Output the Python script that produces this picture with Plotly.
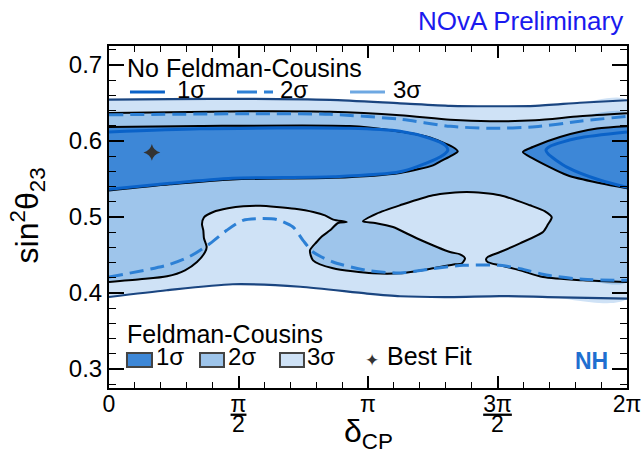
import math
import plotly.graph_objects as go

PI = math.pi

# ---------------- data (delta_CP in radians, sin^2 theta_23) ----------------
# Feldman-Cousins 3 sigma band (outer boundary)
FC3_TOP_X = [0.0, 0.74, 1.71, 2.68, 3.53, 4.14, 4.62, 5.17, 5.71, 6.283]
FC3_TOP_Y = [0.6545, 0.655, 0.6555, 0.6542, 0.6496, 0.6463, 0.6457, 0.6463, 0.6503, 0.6536]
FC3_BOT_X = [0.0, 0.70, 1.50, 2.32, 3.13, 3.53, 4.14, 4.74, 5.32, 6.283]
FC3_BOT_Y = [0.3947, 0.4036, 0.4115, 0.4082, 0.3992, 0.3957, 0.3947, 0.396, 0.3947, 0.3926]

# Feldman-Cousins 2 sigma region
FC2_TOP_X = [0.0, 1.71, 2.68, 3.53, 4.14, 4.62, 5.17, 5.71, 6.283]
FC2_TOP_Y = [0.6368, 0.639, 0.6384, 0.6338, 0.628, 0.626, 0.6273, 0.6325, 0.6364]
FC2_BOT_X = [0.0, 0.376, 0.704, 0.922, 1.067, 1.164, 1.185, 1.152, 1.144, 1.128,
             1.152, 1.265, 1.443, 1.629, 1.832, 2.034, 2.256, 2.478, 2.620, 2.721,
             2.883, 2.778, 2.681, 2.584, 2.519, 2.438, 2.475, 2.717, 3.202, 3.530,
             3.930, 4.197, 4.278, 4.318, 4.258, 4.136, 3.732, 3.445, 3.227, 3.081,
             3.247, 3.530, 3.930, 4.339, 4.743, 5.107, 5.289, 5.370, 5.325, 5.264,
             4.985, 4.743, 4.597, 4.573, 4.597, 4.743, 4.985, 5.264, 5.750, 6.283]
FC2_BOT_Y = [0.4145, 0.418, 0.422, 0.4299, 0.4408, 0.4535, 0.4605, 0.472, 0.4825, 0.4904,
             0.4996, 0.5066, 0.5114, 0.5141, 0.5147, 0.5132, 0.5108, 0.5066, 0.5022, 0.4966,
             0.4934, 0.4921, 0.4825, 0.4746, 0.4671, 0.4562, 0.443, 0.4325, 0.4259, 0.4259,
             0.4325, 0.4378, 0.4387, 0.4457, 0.4509, 0.4539, 0.472, 0.4868, 0.4921, 0.4943,
             0.5045, 0.5154, 0.5286, 0.5329, 0.5286, 0.5154, 0.5075, 0.4996, 0.4904, 0.4803,
             0.4654, 0.4539, 0.4476, 0.4443, 0.4404, 0.4364, 0.4299, 0.421, 0.4167, 0.4145]

# Feldman-Cousins 1 sigma islands
FC1_LEFT_X = [0.0, 1.10, 2.92, 3.42, 3.87, 4.17, 4.23, 4.16, 4.02, 3.93, 3.53, 2.72, 1.50, 0.74, 0.0]
FC1_LEFT_Y = [0.6184, 0.6197, 0.6197, 0.6141, 0.6053, 0.5921, 0.5864, 0.5812, 0.5733, 0.568,
              0.558, 0.5515, 0.5495, 0.543, 0.535]
FC1_RIGHT_X = [6.283, 5.92, 5.47, 5.14, 5.02, 5.14, 5.56, 5.96, 6.283]
FC1_RIGHT_Y = [0.6193, 0.6163, 0.6053, 0.5921, 0.5855, 0.5772, 0.5549, 0.5443, 0.5378]

# No Feldman-Cousins contours
NOFC1_LEFT_X = [0.0, 1.10, 2.92, 3.53, 3.89, 4.08, 4.11, 4.08, 3.93, 3.53, 2.72, 1.50, 0.74, 0.0]
NOFC1_LEFT_Y = [0.6118, 0.616, 0.6167, 0.6128, 0.6036, 0.5943, 0.5878, 0.5838, 0.5746, 0.5595,
                0.5529, 0.5509, 0.5443, 0.5364]
NOFC1_RIGHT_X = [6.283, 5.68, 5.35, 5.30, 5.33, 5.56, 5.96, 6.283]
NOFC1_RIGHT_Y = [0.6118, 0.6036, 0.593, 0.5878, 0.5825, 0.5654, 0.5483, 0.5391]
NOFC2_TOP_X = [0.0, 1.71, 2.68, 3.53, 4.14, 4.62, 5.17, 5.71, 6.283]
NOFC2_TOP_Y = [0.6345, 0.6358, 0.6351, 0.6286, 0.6193, 0.6167, 0.6187, 0.626, 0.6325]
NOFC2_BOT_X = [0.0, 0.70, 0.982, 1.225, 1.428, 1.625, 1.832, 2.034, 2.232, 2.353, 2.475,
               2.717, 3.126, 3.530, 3.930, 4.294, 4.743, 4.985, 5.325, 5.750, 6.283]
NOFC2_BOT_Y = [0.4211, 0.4364, 0.4483, 0.465, 0.4825, 0.4956, 0.4979, 0.4966, 0.4868, 0.4693,
               0.4539, 0.4408, 0.4299, 0.4263, 0.4321, 0.4364, 0.4364, 0.4321, 0.4233, 0.418, 0.4167]

BEST_FIT_X = [0.52]
BEST_FIT_Y = [0.585]

X_TICK_VALS = [0, PI / 2, PI, 3 * PI / 2, 2 * PI]
X_TICK_TEXT = ["0", "<u>π</u>", "π", "<u>3π</u>", "2π"]
X_TICK_DENOM = ["", "2", "", "2", ""]
Y_TICK_VALS = [0.3, 0.4, 0.5, 0.6, 0.7]
Y_TICK_TEXT = ["0.3", "0.4", "0.5", "0.6", "0.7"]

# ---------------- style ----------------
FONT = "Liberation Sans, Arial, Helvetica, sans-serif"
C_FC1 = "#3d87d7"
C_FC2 = "#9ec5eb"
C_FC3 = "#cfe2f6"
C_N1 = "#0a62c8"
C_N2 = "#2d80d5"
C_N3 = "#6ea8e2"
C_EDGE = "#1a4580"
DASH = "14px,7px"
SPL = dict(shape="spline", smoothing=0.7)

fig = go.Figure()


def add_fill(x, y, color, outline=None, width=0):
    fig.add_trace(go.Scatter(
        x=x, y=y, mode="lines", fill="toself", fillcolor=color,
        line=dict(color=outline or color, width=width, **SPL),
        hoverinfo="skip", showlegend=False))


def add_line(x, y, color, width, dash="solid"):
    fig.add_trace(go.Scatter(
        x=x, y=y, mode="lines",
        line=dict(color=color, width=width, dash=dash, **SPL),
        hoverinfo="skip", showlegend=False))


add_fill(FC3_TOP_X + FC3_BOT_X[::-1], FC3_TOP_Y + FC3_BOT_Y[::-1], C_FC3)
add_fill(FC2_TOP_X + FC2_BOT_X[::-1], FC2_TOP_Y + FC2_BOT_Y[::-1], C_FC2)
add_fill(FC1_LEFT_X, FC1_LEFT_Y, C_FC1, "black", 2)
add_fill(FC1_RIGHT_X, FC1_RIGHT_Y, C_FC1, "black", 2)

add_line(FC2_TOP_X, FC2_TOP_Y, "black", 2)
add_line(FC2_BOT_X, FC2_BOT_Y, "black", 2)
add_line(FC3_TOP_X, FC3_TOP_Y, C_EDGE, 2.2)
add_line(FC3_BOT_X, FC3_BOT_Y, C_EDGE, 2.2)

add_line(NOFC2_TOP_X, NOFC2_TOP_Y, C_N2, 3, DASH)
add_line(NOFC2_BOT_X, NOFC2_BOT_Y, C_N2, 3, DASH)
add_line(NOFC1_LEFT_X, NOFC1_LEFT_Y, C_N1, 3)
add_line(NOFC1_RIGHT_X, NOFC1_RIGHT_Y, C_N1, 3)

fig.add_trace(go.Scatter(
    x=BEST_FIT_X, y=BEST_FIT_Y, mode="markers",
    marker=dict(symbol="star-diamond", size=12, color="#333333", line=dict(width=0)),
    hoverinfo="skip", showlegend=False))

# ---------------- axes ----------------
fig.update_xaxes(
    range=[0, 2 * PI], tickmode="array", tickvals=X_TICK_VALS, ticktext=X_TICK_TEXT,
    ticks="inside", ticklen=12, tickwidth=1.5, tickcolor="black",
    showline=True, linewidth=2, linecolor="black", mirror="ticks",
    showgrid=False, zeroline=False, automargin=False, ticklabelstandoff=-6,
    tickfont=dict(family=FONT, size=23, color="black"),
    minor=dict(tickmode="array", tickvals=[k * PI / 10 for k in range(21)],
               ticks="inside", ticklen=6, tickwidth=1.2, tickcolor="black", showgrid=False),
)
fig.update_yaxes(
    range=[0.275, 0.725], tickmode="array", tickvals=Y_TICK_VALS, ticktext=Y_TICK_TEXT,
    ticks="inside", ticklen=15, tickwidth=1.5, tickcolor="black",
    showline=True, linewidth=2, linecolor="black", mirror="ticks",
    showgrid=False, zeroline=False, automargin=False,
    tickfont=dict(family=FONT, size=24, color="black"),
    minor=dict(dtick=0.02, tick0=0.0, ticks="inside", ticklen=7, tickwidth=1.2,
               tickcolor="black", showgrid=False),
)

# ---------------- texts ----------------
ann = []


def text(x, y, s, size=24, color="black", xanchor="left", yanchor="middle", **kw):
    ann.append(dict(x=x, y=y, xref="paper", yref="paper", text=s, showarrow=False,
                    xanchor=xanchor, yanchor=yanchor,
                    font=dict(family=FONT, size=size, color=color), **kw))


# denominators of the fractional x tick labels, placed under their tick
for v, d in zip(X_TICK_VALS, X_TICK_DENOM):
    if d:
        ann.append(dict(x=v, y=-0.105, xref="x", yref="paper", text=d, showarrow=False,
                        xanchor="center", yanchor="middle",
                        font=dict(family=FONT, size=23, color="black")))

text(0.997, 1.072, "NOvA Preliminary", size=26, color="#1a1aee", xanchor="right")
text(0.968, 0.078, "<b>NH</b>", size=23, color="#1f6fd0", xanchor="right")
text(-0.158, 0.505, "sin<sup>2</sup>θ<sub>23</sub>", size=32, xanchor="center", textangle=-90)
text(0.5, -0.133, "δ<sub>CP</sub>", size=32, xanchor="center")

# legend: No Feldman-Cousins
text(0.031, 0.935, "No Feldman-Cousins", size=25)
text(0.128, 0.874, "1σ", size=24)
text(0.327, 0.874, "2σ", size=24)
text(0.545, 0.874, "3σ", size=24)
# legend: Feldman-Cousins
text(0.031, 0.159, "Feldman-Cousins", size=25)
text(0.086, 0.0925, "1σ", size=24)
text(0.225, 0.0925, "2σ", size=24)
text(0.379, 0.0925, "3σ", size=24)
text(0.5077, 0.0818, "✦", size=17, color="#333333", xanchor="center")
text(0.533, 0.0925, "Best Fit", size=25)

shapes = []
LY = 0.8656
shapes.append(dict(type="line", xref="paper", yref="paper", x0=0.0405, x1=0.108, y0=LY, y1=LY,
                   line=dict(color=C_N1, width=3)))
shapes.append(dict(type="line", xref="paper", yref="paper", x0=0.2471, x1=0.3166, y0=LY, y1=LY,
                   line=dict(color=C_N2, width=3, dash="20px,7px")))
shapes.append(dict(type="line", xref="paper", yref="paper", x0=0.4653, x1=0.5328, y0=LY, y1=LY,
                   line=dict(color=C_N3, width=3)))
for (x0, x1), c in zip([(0.0347, 0.083), (0.1757, 0.222), (0.3301, 0.3764)], [C_FC1, C_FC2, C_FC3]):
    shapes.append(dict(type="rect", xref="paper", yref="paper", x0=x0, x1=x1, y0=0.0613, y1=0.1022,
                       fillcolor=c, line=dict(color="#444444", width=2)))

fig.update_layout(
    width=643, height=452,
    margin=dict(l=109, r=16, t=46, b=64),
    paper_bgcolor="white", plot_bgcolor="white",
    font=dict(family=FONT, color="black"),
    annotations=ann, shapes=shapes, showlegend=False,
)

fig.write_html(
    "out.html",
    config={"displayModeBar": False},
    post_script="document.body.style.margin='0px';document.body.style.overflow='hidden';",
)
